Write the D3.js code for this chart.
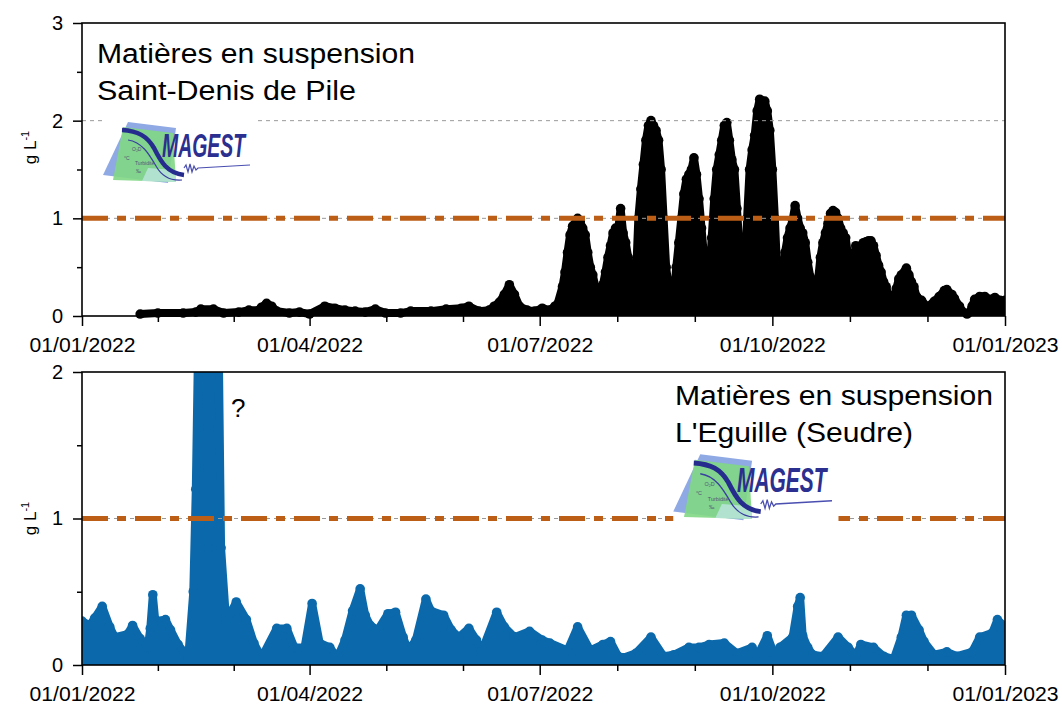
<!DOCTYPE html>
<html lang="fr">
<head>
<meta charset="UTF-8">
<title>Matières en suspension</title>
<script src="https://d3js.org/d3.v7.min.js"></script>
<style>
  body { margin: 0; background: #fff; }
  text { font-family: "Liberation Sans", Arial, sans-serif; }
</style>
</head>
<body>
<svg id="chart" width="1062" height="705"></svg>
<script>
// day of year 2022 (0 = 1 Jan) and upper envelope of suspended matter, g/L
const sdpDays = [23, 30, 40, 45, 47, 52, 56, 62, 66, 70, 71, 73, 75, 77, 82, 86, 90, 96, 100, 104, 108, 112, 116, 120,
  126, 130, 138, 144, 150, 153, 157, 161, 163, 165, 167, 169, 171, 173, 176, 179, 182, 185, 187,
  188, 190, 191, 192, 193, 194, 196, 197, 198, 199, 200, 201, 202, 203, 204,
  205, 206, 207, 208, 209, 210, 211, 212, 213, 214, 215, 216, 217, 218,
  219, 220, 221, 222, 223, 224, 225, 226, 227, 228, 229, 230, 231, 232, 233,
  234, 235, 236, 237, 238, 239, 240, 241, 242, 243, 244, 245, 246, 247, 248,
  249, 250, 251, 252, 253, 254, 255, 256, 257, 258, 259, 260, 261,
  262, 263, 264, 265, 266, 267, 268, 269, 270, 271, 272, 273, 274, 275,
  276, 277, 278, 279, 280, 281, 282, 283, 284, 285, 286, 287, 288, 289,
  290, 291, 292, 293, 294, 295, 296, 297, 298, 299, 300, 301, 302, 303, 304,
  305, 306, 307, 308, 309, 310, 311, 312, 313, 314, 315, 316, 317, 318, 319,
  320, 321, 322, 323, 324, 326, 327, 328, 329, 330, 332, 334, 335,
  336, 337, 339, 341, 342, 344, 345, 347, 348, 350, 351, 352, 353, 355, 357, 359, 361, 363, 365];
const sdpVals = [0.02, 0.03, 0.03, 0.04, 0.07, 0.07, 0.03, 0.04, 0.06, 0.06, 0.09, 0.13, 0.10, 0.05, 0.03, 0.04, 0.02, 0.10, 0.08, 0.06, 0.05, 0.04, 0.07, 0.03,
  0.03, 0.05, 0.05, 0.07, 0.08, 0.10, 0.05, 0.06, 0.10, 0.14, 0.22, 0.32, 0.22, 0.10, 0.06, 0.05, 0.08, 0.06, 0.10,
  0.12, 0.30, 0.45, 0.65, 0.83, 0.92, 1.00, 0.97, 0.90, 0.83, 0.65, 0.50, 0.42, 0.30, 0.22,
  0.25, 0.32, 0.45, 0.60, 0.72, 0.85, 0.90, 0.88, 1.10, 0.85, 0.75, 0.60, 0.45, 0.35,
  0.35, 1.00, 1.30, 1.55, 1.80, 1.95, 2.00, 1.95, 1.90, 1.80, 1.50, 1.00, 0.50, 0.30, 0.15,
  0.20, 0.50, 0.75, 1.00, 1.25, 1.40, 1.45, 1.50, 1.62, 1.45, 1.20, 0.90, 0.60, 0.35, 0.30,
  0.80, 1.20, 1.50, 1.65, 1.80, 1.95, 1.98, 1.80, 1.60, 1.50, 1.10, 0.70, 0.35,
  0.30, 1.00, 1.50, 1.70, 1.85, 2.10, 2.22, 2.20, 2.20, 2.10, 1.90, 1.50, 1.00, 0.40,
  0.30, 0.40, 0.65, 0.80, 0.90, 0.98, 1.13, 1.00, 0.90, 0.85, 0.75, 0.55, 0.40, 0.20,
  0.15, 0.35, 0.60, 0.75, 0.85, 0.95, 1.05, 1.08, 1.06, 1.00, 0.90, 0.85, 0.80, 0.60, 0.50,
  0.55, 0.72, 0.68, 0.72, 0.75, 0.76, 0.77, 0.77, 0.72, 0.62, 0.52, 0.45, 0.35, 0.30, 0.20,
  0.15, 0.18, 0.28, 0.38, 0.42, 0.49, 0.42, 0.35, 0.30, 0.20, 0.16, 0.10, 0.08,
  0.12, 0.15, 0.20, 0.26, 0.27, 0.22, 0.18, 0.10, 0.05, 0.02, 0.04, 0.10, 0.17, 0.20, 0.20, 0.17, 0.19, 0.16, 0.16];

const eguDays = [0, 3, 5, 8, 11, 13, 18, 20, 23, 26, 27, 28, 29, 33, 35, 38, 42,
  44, 45, 46, 49, 50, 51, 54, 55, 57, 61, 65, 68, 71, 77, 81, 84, 88, 91, 94, 98, 101,
  104, 107, 110, 112, 114, 117, 121, 124, 127, 129, 132, 136, 138, 143, 146, 149, 153, 156, 158,
  164, 167, 171, 177, 182, 185, 192, 196, 201, 206, 209, 212, 214, 219, 225, 230, 234,
  240, 244, 248, 254, 259, 265, 267, 271, 274, 276, 281, 283, 284, 285, 287, 289, 293,
  299, 303, 306, 308, 313, 317, 321, 324, 326, 328, 331, 333, 337, 342, 346, 352, 355, 360, 362, 365];
const eguVals = [0.30, 0.27, 0.32, 0.40, 0.26, 0.19, 0.21, 0.27, 0.18, 0.12, 0.25, 0.48, 0.30, 0.31, 0.24, 0.14, 0.05,
  0.50, 1.20, 2.30, 2.30, 0.80, 2.30, 2.30, 0.80, 0.30, 0.43, 0.31, 0.15, 0.05, 0.25, 0.25, 0.12, 0.12, 0.42, 0.15, 0.12, 0.05,
  0.17, 0.37, 0.52, 0.34, 0.27, 0.24, 0.35, 0.36, 0.19, 0.10, 0.17, 0.45, 0.37, 0.34, 0.24, 0.19, 0.25, 0.17, 0.09,
  0.36, 0.26, 0.19, 0.23, 0.17, 0.15, 0.10, 0.26, 0.10, 0.14, 0.16, 0.06, 0.05, 0.08, 0.19, 0.06, 0.07,
  0.12, 0.12, 0.14, 0.15, 0.08, 0.12, 0.06, 0.20, 0.06, 0.12, 0.19, 0.40, 0.46, 0.20, 0.12, 0.07, 0.06,
  0.19, 0.12, 0.06, 0.14, 0.12, 0.06, 0.04, 0.19, 0.34, 0.34, 0.24, 0.16, 0.07, 0.09, 0.06, 0.09, 0.19, 0.22, 0.31, 0.26];

const thresholdValue = 1;
const xTickFormat = '%d/%m/%Y';

const svg = d3.select('#chart');
const x = d3.scaleTime()
  .domain([new Date(2022, 0, 1), new Date(2023, 0, 1)])
  .range([82, 1005]);
const toDate = d => new Date(2022, 0, 1 + d);

const panels = [
  { id: 'sdp', y0: 316, y1: 23, yMax: 3, days: sdpDays, vals: sdpVals, color: '#000', grid: [1, 2],
    title: ['Matières en suspension', 'Saint-Denis de Pile'], titleX: 97, titleY: 63, titleW: [318, 259],
    logo: [100, 118, 1] },
  { id: 'egu', y0: 665, y1: 372, yMax: 2, days: eguDays, vals: eguVals, color: '#0b69ab', grid: [1],
    title: ["Matières en suspension", "L'Eguille (Seudre)"], titleX: 675, titleY: 405, titleW: [318, 238],
    logo: [670, 450, 1.08] }
];

function drawLogo(sel, ox, oy, s) {
  const g = sel.append('g').attr('transform', `translate(${ox},${oy}) scale(${s})`);
  g.append('rect').attr('x', 3).attr('y', -3).attr('width', 153).attr('height', 72).attr('fill', '#fff');
  g.append('path').attr('d', 'M28,4 L76,10 L68,65 L3,57 Z').attr('fill', '#8fa9e4');
  g.append('path').attr('d', 'M23,9 L73,15 L76,64 L13,62 Z').attr('fill', '#7fd784').attr('opacity', 0.9);
  g.append('path').attr('d', 'M48,50 L75,52 L76,64 L42,63 Z').attr('fill', '#bde6e0').attr('opacity', 0.8);
  g.append('path').attr('d', 'M22,12 C38,13 47,18 54,30 C61,44 67,55 84,57')
    .attr('fill', 'none').attr('stroke', '#262c8e').attr('stroke-width', 4.5);
  g.append('path').attr('d', 'M28,22 C42,24 49,36 56,48 C61,57 70,63 82,62')
    .attr('fill', 'none').attr('stroke', '#3a3fa0').attr('stroke-width', 1.2);
  g.append('path').attr('d', 'M84,50 l2,-3 l2,7 l2,-8 l2,8 l2,-6 l2,4 l2,-2 L150,47')
    .attr('fill', 'none').attr('stroke', '#4a4fb0').attr('stroke-width', 1.2);
  g.append('text').attr('x', 62).attr('y', 39).text('MAGEST')
    .attr('font-size', 33).attr('font-weight', 'bold').attr('font-style', 'italic')
    .attr('fill', '#2b2f8f').attr('textLength', 83).attr('lengthAdjust', 'spacingAndGlyphs');
  const tiny = [['O₂D', 32, 33], ['°C', 24, 42], ['Turbidité', 35, 47], ['‰', 36, 55]];
  tiny.forEach(t => g.append('text').attr('x', t[1]).attr('y', t[2]).text(t[0])
    .attr('font-size', 5).attr('fill', '#557'));
}

panels.forEach(p => {
  const y = d3.scaleLinear().domain([0, p.yMax]).range([p.y0, p.y1]);
  const pts = p.days.map((d, i) => ({ date: toDate(d), v: p.vals[i] }));

  svg.append('clipPath').attr('id', 'clip-' + p.id)
    .append('rect').attr('x', 82).attr('y', p.y1).attr('width', 923).attr('height', p.y0 - p.y1 + 6);
  const plot = svg.append('g').attr('clip-path', `url(#clip-${p.id})`);

  plot.append('path').datum(pts)
    .attr('fill', p.color)
    .attr('d', d3.area().x(d => x(d.date)).y0(y(0)).y1(d => y(d.v)));
  plot.append('path').datum(pts)
    .attr('fill', 'none').attr('stroke', p.color).attr('stroke-width', 8).attr('stroke-linejoin', 'round')
    .attr('d', d3.line().x(d => x(d.date)).y(d => y(d.v)));
  plot.selectAll('circle.pt').data(pts).enter().append('circle')
    .attr('class', 'pt')
    .attr('cx', d => x(d.date)).attr('cy', d => y(d.v)).attr('r', 4.8)
    .attr('fill', p.color);

  // grey dashed reference lines
  plot.selectAll('line.grid').data(p.grid).enter().append('line')
    .attr('class', 'grid')
    .attr('x1', 82).attr('x2', 1005).attr('y1', d => y(d)).attr('y2', d => y(d))
    .attr('stroke', '#9a9a9a').attr('stroke-width', 1).attr('stroke-dasharray', '4,4');
  // orange threshold
  plot.append('line')
    .attr('x1', 82).attr('x2', 1005).attr('y1', y(thresholdValue)).attr('y2', y(thresholdValue))
    .attr('stroke', '#bd5e16').attr('stroke-width', 5).attr('stroke-dasharray', '26,9,9,9');

  drawLogo(svg, p.logo[0], p.logo[1], p.logo[2]);

  // frame
  svg.append('rect').attr('x', 82).attr('y', p.y1).attr('width', 923).attr('height', p.y0 - p.y1)
    .attr('fill', 'none').attr('stroke', '#000').attr('stroke-width', 1.6);

  // x axis: quarterly majors, two evenly spaced minors between
  const majors = d3.timeMonth.every(3).range(new Date(2022, 0, 1), new Date(2023, 0, 2));
  const minors = [];
  for (let i = 0; i < majors.length - 1; i++) {
    const a = +majors[i], b = +majors[i + 1];
    minors.push(new Date(a + (b - a) / 3), new Date(a + 2 * (b - a) / 3));
  }
  const xa = svg.append('g').attr('transform', `translate(0,${p.y0})`)
    .call(d3.axisBottom(x).tickValues(majors).tickSize(10).tickPadding(12).tickFormat(d3.timeFormat(xTickFormat)));
  const xm = svg.append('g').attr('transform', `translate(0,${p.y0})`)
    .call(d3.axisBottom(x).tickValues(minors).tickSize(6).tickFormat(''));
  xa.selectAll('text').attr('textLength', 106).attr('lengthAdjust', 'spacingAndGlyphs');

  // y axis
  const ticks = d3.range(0, p.yMax + 0.01, 1);
  const ya = svg.append('g').attr('transform', 'translate(82,0)')
    .call(d3.axisLeft(y).tickValues(ticks).tickSize(9).tickPadding(10).tickFormat(d3.format('d')));
  const ym = svg.append('g').attr('transform', 'translate(82,0)')
    .call(d3.axisLeft(y).tickValues(ticks.slice(0, -1).map(t => t + 0.5)).tickSize(5).tickFormat(''));

  [xa, xm, ya, ym].forEach(a => {
    a.select('.domain').remove();
    a.selectAll('line').attr('stroke-width', 1.5);
    a.selectAll('text').attr('font-size', 20).attr('font-family', '"Liberation Sans", Arial, sans-serif').attr('fill', '#000');
  });

  // y label
  const yl = svg.append('text')
    .attr('transform', `translate(36,${(p.y0 + p.y1) / 2 + (p.id === 'sdp' ? -22 : 0)}) rotate(-90)`)
    .attr('text-anchor', 'middle').attr('font-size', 17);
  yl.append('tspan').text('g L');
  yl.append('tspan').text('-1').attr('font-size', 11).attr('dy', -7);

  // titles
  p.title.forEach((t, i) => {
    svg.append('text').attr('x', p.titleX).attr('y', p.titleY + i * 37).text(t)
      .attr('font-size', 27).attr('textLength', p.titleW[i]).attr('lengthAdjust', 'spacingAndGlyphs');
  });
});

svg.append('text').attr('x', 231).attr('y', 417).text('?').attr('font-size', 26);
</script>
</body>
</html>
